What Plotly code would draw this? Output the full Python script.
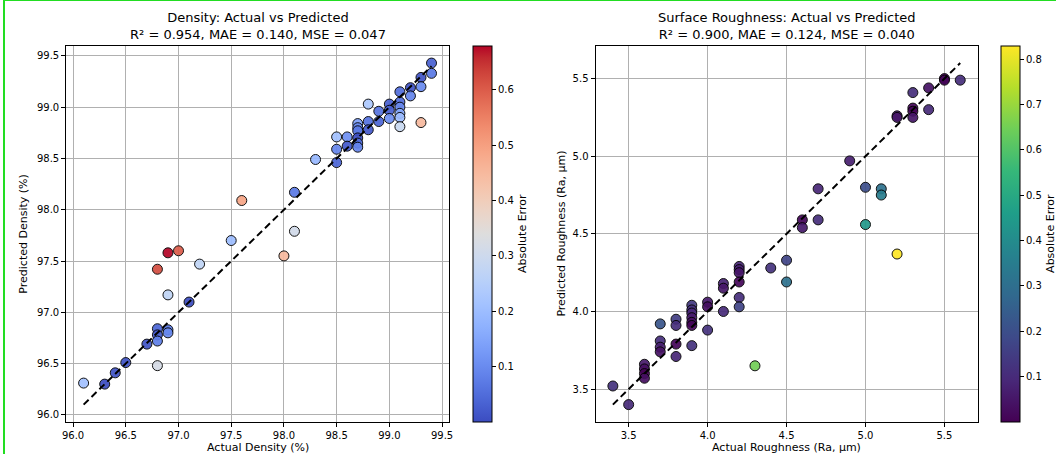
import plotly.graph_objects as go

# ---------------- data ----------------
density_actual = [96.1, 96.3, 96.4, 96.5, 96.7, 96.8, 96.8, 96.8, 96.8, 96.8,
                  96.9, 96.9, 96.9, 96.9, 97.0, 97.1, 97.2, 97.5, 97.6, 98.0,
                  98.1, 98.1, 98.3, 98.5, 98.5, 98.5, 98.6, 98.6, 98.7, 98.7,
                  98.7, 98.7, 98.7, 98.7, 98.8, 98.8, 98.8, 98.9, 98.9, 99.0,
                  99.0, 99.0, 99.1, 99.1, 99.1, 99.1, 99.1, 99.1, 99.2, 99.2,
                  99.3, 99.3, 99.3, 99.4, 99.4]
density_pred = [96.31, 96.30, 96.41, 96.51, 96.69, 96.84, 96.78, 96.72, 96.48, 97.42,
                96.83, 96.80, 97.17, 97.58, 97.60, 97.10, 97.47, 97.70, 98.09, 97.55,
                98.17, 97.79, 98.49, 98.71, 98.59, 98.46, 98.71, 98.62, 98.84, 98.80,
                98.77, 98.70, 98.65, 98.61, 99.03, 98.86, 98.78, 98.96, 98.86, 99.03,
                98.97, 98.89, 99.15, 99.05, 99.00, 98.94, 98.90, 98.81, 99.19, 99.11,
                99.29, 99.20, 98.85, 99.43, 99.33]

rough_actual = [3.4, 3.5, 3.6, 3.6, 3.6, 3.6, 3.7, 3.7, 3.7, 3.7,
                3.8, 3.8, 3.8, 3.8, 3.9, 3.9, 3.9, 3.9, 3.9, 3.9,
                3.9, 4.0, 4.0, 4.0, 4.1, 4.1, 4.1, 4.2, 4.2, 4.2,
                4.2, 4.2, 4.2, 4.3, 4.4, 4.5, 4.5, 4.6, 4.6, 4.7,
                4.7, 4.9, 5.0, 5.0, 5.1, 5.1, 5.2, 5.2, 5.2, 5.3,
                5.3, 5.3, 5.3, 5.4, 5.4, 5.5, 5.5, 5.6]
rough_pred = [3.52, 3.40, 3.66, 3.63, 3.60, 3.57, 3.92, 3.81, 3.77, 3.74,
              3.95, 3.91, 3.79, 3.71, 4.04, 4.01, 3.99, 3.96, 3.93, 3.91,
              3.78, 4.06, 4.03, 3.88, 4.18, 4.15, 4.00, 4.29, 4.27, 4.25,
              4.19, 4.09, 4.03, 3.65, 4.28, 4.33, 4.19, 4.59, 4.54, 4.79,
              4.59, 4.97, 4.80, 4.56, 4.79, 4.75, 4.37, 5.26, 5.25, 5.41,
              5.31, 5.29, 5.25, 5.44, 5.30, 5.50, 5.49, 5.49]

density_ticks = [96.0, 96.5, 97.0, 97.5, 98.0, 98.5, 99.0, 99.5]
rough_ticks = [3.5, 4.0, 4.5, 5.0, 5.5]
cbar1_ticks = [0.1, 0.2, 0.3, 0.4, 0.5, 0.6]
cbar2_ticks = [0.1, 0.2, 0.3, 0.4, 0.5, 0.6, 0.7, 0.8]

titles = ["Density: Actual vs Predicted<br>R² = 0.954, MAE = 0.140, MSE = 0.047",
          "Surface Roughness: Actual vs Predicted<br>R² = 0.900, MAE = 0.124, MSE = 0.040"]
xlabels = ["Actual Density (%)", "Actual Roughness (Ra, μm)"]
ylabels = ["Predicted Density (%)", "Predicted Roughness (Ra, μm)"]

# ---------------- styling ----------------
FONT = "DejaVu Sans"
W, H = 1060, 454

coolwarm_rgb = [(59,76,192),(68,90,204),(77,104,215),(87,117,225),(98,130,234),(108,142,241),
                (119,154,247),(130,165,251),(141,176,254),(152,185,255),(163,194,255),(174,201,253),
                (184,208,249),(194,213,244),(204,217,238),(213,219,230),(221,221,221),(229,216,209),
                (236,211,197),(241,204,184),(245,196,172),(247,187,160),(247,177,148),(247,166,135),
                (244,154,123),(241,141,111),(236,127,99),(229,112,88),(222,96,77),(213,80,66),
                (203,62,56),(192,40,47),(180,4,38)]
coolwarm = [[i / (len(coolwarm_rgb) - 1), "rgb(%d,%d,%d)" % c] for i, c in enumerate(coolwarm_rgb)]


def px_x(p):
    return p / W


def px_y(p):
    return 1 - p / H


def autorange(vals):
    lo, hi = min(vals), max(vals)
    m = (hi - lo) * 0.05
    return [lo - m, hi + m]


panels = [
    dict(act=density_actual, pred=density_pred, ticks=density_ticks, cs=coolwarm,
         cticks=cbar1_ticks, x0=62.7, x1=448.3, cbx=472.7),
    dict(act=rough_actual, pred=rough_pred, ticks=rough_ticks, cs="Viridis",
         cticks=cbar2_ticks, x0=596.0, x1=981.0, cbx=1005.0),
]
ytop, ybot = 46.0, 421.7

fig = go.Figure()
layout = dict(width=W, height=H, margin=dict(l=0, r=0, t=0, b=0),
              paper_bgcolor="white", plot_bgcolor="white", showlegend=False,
              font=dict(family=FONT, size=10, color="black"), annotations=[], shapes=[])

for i, p in enumerate(panels):
    n = "" if i == 0 else str(i + 1)
    err = [abs(a - b) for a, b in zip(p["act"], p["pred"])]
    lo, hi = min(p["act"]), max(p["act"])
    fig.add_trace(go.Scatter(
        x=p["act"], y=p["pred"], mode="markers", xaxis="x" + n, yaxis="y" + n,
        hoverinfo="skip",
        marker=dict(size=10, color=err, colorscale=p["cs"], cmin=min(err), cmax=max(err),
                    opacity=0.92, line=dict(color="black", width=1),
                    colorbar=dict(x=px_x(p["cbx"]), xanchor="left", y=px_y(ybot), yanchor="bottom",
                                  len=(ybot - ytop) / H, lenmode="fraction", thickness=19,
                                  thicknessmode="pixels", xpad=0, ypad=0,
                                  outlinewidth=1, outlinecolor="black",
                                  tickvals=p["cticks"], ticktext=["%.1f" % t for t in p["cticks"]],
                                  ticks="outside", ticklen=4, tickwidth=1, tickcolor="black",
                                  tickfont=dict(family=FONT, size=10),
                                  title=dict(text="Absolute Error", side="right",
                                             font=dict(family=FONT, size=11)))),
    ))
    fig.add_trace(go.Scatter(
        x=[lo, hi], y=[lo, hi], mode="lines", xaxis="x" + n, yaxis="y" + n,
        hoverinfo="skip", line=dict(color="black", width=2, dash="7px,4px"),
    ))
    axcommon = dict(showline=True, linecolor="black", linewidth=1, mirror=True,
                    showgrid=True, gridcolor="#b0b0b0", gridwidth=1, zeroline=False,
                    ticks="outside", ticklen=4, tickwidth=1, tickcolor="black",
                    tickvals=p["ticks"], ticktext=["%.1f" % t for t in p["ticks"]],
                    tickfont=dict(family=FONT, size=10))
    layout["xaxis" + n] = dict(axcommon, domain=[px_x(p["x0"]), px_x(p["x1"])],
                               range=autorange(p["act"]), anchor="y" + n)
    layout["yaxis" + n] = dict(axcommon, domain=[px_y(ybot), px_y(ytop)],
                               range=autorange(p["act"] + p["pred"]), anchor="x" + n)
    cx = (p["x0"] + p["x1"]) / 2
    layout["annotations"].append(dict(
        text=titles[i], x=px_x(cx), y=px_y(ytop - 2), xref="paper", yref="paper",
        xanchor="center", yanchor="bottom", showarrow=False,
        font=dict(family=FONT, size=13)))
    layout["annotations"].append(dict(
        text=xlabels[i], x=px_x(cx), y=px_y(447), xref="paper", yref="paper",
        xanchor="center", yanchor="middle", showarrow=False,
        font=dict(family=FONT, size=11)))
    ylx = 20 if i == 0 else 562
    layout["annotations"].append(dict(
        text=ylabels[i], x=px_x(ylx), y=px_y((ytop + ybot) / 2), xref="paper", yref="paper",
        xanchor="center", yanchor="middle", textangle=-90, showarrow=False,
        font=dict(family=FONT, size=11)))

# thin green frame edge visible in the reference screenshot
layout["shapes"].append(dict(type="line", xref="paper", yref="paper", x0=0, x1=1, y0=1, y1=1,
                             line=dict(color="#22dd22", width=2)))
layout["shapes"].append(dict(type="line", xref="paper", yref="paper", x0=0, x1=0, y0=0, y1=1,
                             line=dict(color="#22dd22", width=2)))

fig.update_layout(**layout)
fig.write_html("out.html")
